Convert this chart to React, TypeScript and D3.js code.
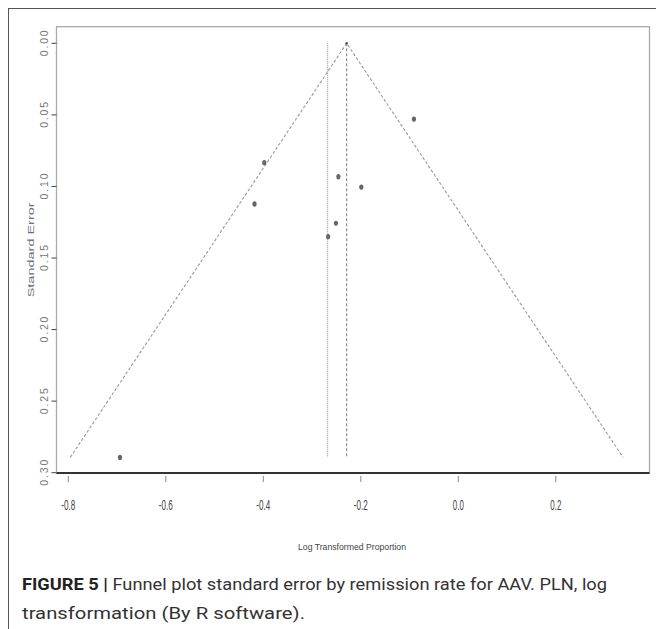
import React from "react";
import * as d3 from "d3";

const studyEffects = [-0.398, -0.418, -0.246, -0.199, -0.251, -0.267, -0.091, -0.694];
const studySE = [0.0834, 0.1123, 0.0932, 0.1006, 0.1258, 0.1351, 0.0531, 0.2893];
const pooledEstimate = -0.229;
const adjustedEstimate = -0.268;
const xTicks = [-0.8, -0.6, -0.4, -0.2, 0.0, 0.2];
const yTicks = [0.0, 0.05, 0.1, 0.15, 0.2, 0.25, 0.3];

export default function App() {
  const W = 656, H = 629;
  const x = d3.scaleLinear().domain([-0.8, 0.2]).range([68.3, 555.8]);
  const y = d3.scaleLinear().domain([0, 0.3]).range([43.3, 472.7]);
  const left = 56.5, right = 649.5, top = 26.7, bottom = 473;
  const maxSE = d3.max(studySE) as number;
  const z = 1.96;
  const funnel = d3.line<[number, number]>().x(d => x(d[0])).y(d => y(d[1]));
  const funnelPts: [number, number][] = [
    [pooledEstimate - z * maxSE, maxSE],
    [pooledEstimate, 0],
    [pooledEstimate + z * maxSE, maxSE],
  ];
  const narrow = "'Liberation Sans Narrow', 'Arial Narrow', 'Liberation Sans', sans-serif";
  return (
    <svg width={W} height={H} style={{ position: "absolute", left: 0, top: 0, background: "#fff" }}>
      {/* outer frame */}
      <line x1={8} y1={8.5} x2={W} y2={8.5} stroke="#555" strokeWidth={1} />
      <line x1={8.5} y1={8} x2={8.5} y2={H} stroke="#555" strokeWidth={1} />
      {/* plot box */}
      <rect x={left} y={top} width={right - left} height={bottom - top} fill="none" stroke="#aaa" strokeWidth={1.3} />
      <line x1={left} y1={bottom} x2={right} y2={bottom} stroke="#333" strokeWidth={1.8} />
      {/* funnel */}
      <path d={funnel(funnelPts) as string} fill="none" stroke="#999" strokeWidth={1.1} strokeDasharray="3,2" />
      <line x1={x(adjustedEstimate)} x2={x(adjustedEstimate)} y1={y(0)} y2={y(maxSE)} stroke="#999" strokeWidth={1.1} strokeDasharray="1,1" />
      <line x1={x(pooledEstimate)} x2={x(pooledEstimate)} y1={y(0)} y2={y(maxSE)} stroke="#888" strokeWidth={1.1} strokeDasharray="3,2" />
      <circle cx={x(pooledEstimate)} cy={y(0)} r={1.3} fill="#555" />
      {/* points */}
      {studyEffects.map((e, i) => (
        <ellipse key={i} cx={x(e)} cy={y(studySE[i])} rx={2.1} ry={2.7} fill="#666" />
      ))}
      {/* y axis */}
      {yTicks.map((t, i) => (
        <g key={i}>
          <line x1={51.5} x2={left} y1={y(t)} y2={y(t)} stroke="#444" strokeWidth={1} />
          <text
            transform={`translate(44,${y(t)}) rotate(-90)`}
            textAnchor="middle"
            dominantBaseline="central"
            fontFamily="'Liberation Sans', Arial, sans-serif"
            fontSize={10.5}
            fill="#777"
            textLength={26}
            lengthAdjust="spacing"
          >
            {t.toFixed(2)}
          </text>
        </g>
      ))}
      <text
        transform={`translate(31,${(top + bottom) / 2}) rotate(-90)`}
        textAnchor="middle"
        dominantBaseline="central"
        fontFamily="'Liberation Sans', Arial, sans-serif"
        fontSize={9}
        fill="#6a6f80"
        textLength={95}
        lengthAdjust="spacingAndGlyphs"
      >
        Standard Error
      </text>
      {/* x axis */}
      {xTicks.map((t, i) => (
        <g key={i}>
          <line x1={x(t)} x2={x(t)} y1={476} y2={482} stroke="#888" strokeWidth={1} />
          <text
            x={x(t)}
            y={510}
            textAnchor="middle"
            fontFamily={narrow}
            fontSize={14}
            fill="#444"
            textLength={t < 0 ? 14 : 11}
            lengthAdjust="spacingAndGlyphs"
          >
            {t.toFixed(1)}
          </text>
        </g>
      ))}
      <text
        x={352}
        y={550}
        textAnchor="middle"
        fontFamily={narrow}
        fontSize={9}
        fill="#444"
        textLength={108}
        lengthAdjust="spacingAndGlyphs"
      >
        Log Transformed Proportion
      </text>
      {/* caption */}
      <text x={22} y={590} fontFamily="Roboto, 'Liberation Sans', sans-serif" fontSize={17} fill="#333"
        textLength={585} lengthAdjust="spacingAndGlyphs">
        <tspan fontWeight="bold" fill="#222">FIGURE 5 |</tspan>
        <tspan> Funnel plot standard error by remission rate for AAV. PLN, log</tspan>
      </text>
      <text x={22} y={619} fontFamily="Roboto, 'Liberation Sans', sans-serif" fontSize={17} fill="#333"
        textLength={283} lengthAdjust="spacingAndGlyphs">
        transformation (By R software).
      </text>
    </svg>
  );
}
